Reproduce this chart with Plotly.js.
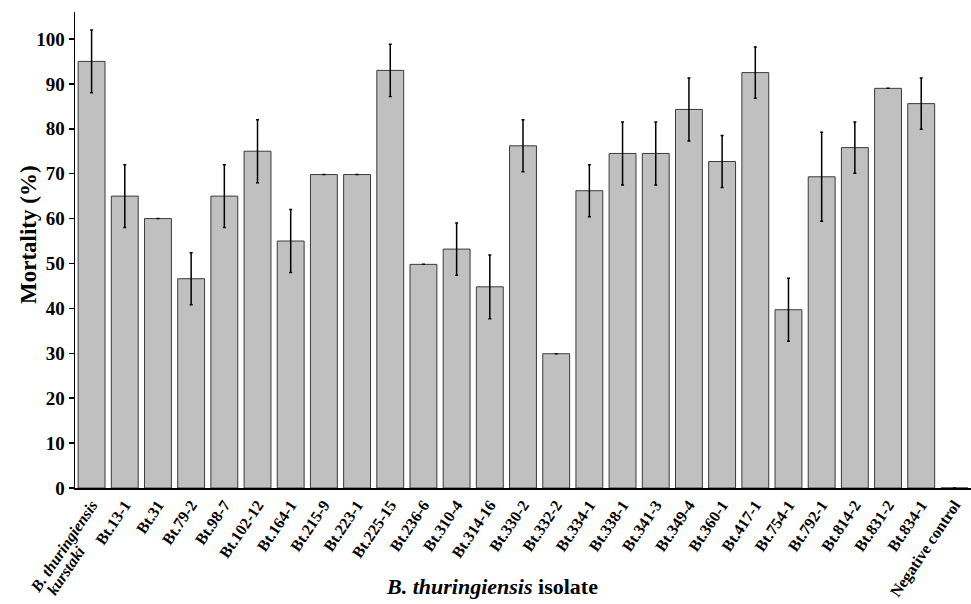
<!DOCTYPE html>
<html>
<head>
<meta charset="utf-8">
<script src="https://cdn.plot.ly/plotly-3.0.1.min.js"></script>
<style>html,body{margin:0;padding:0;background:#fff;}#chart{width:971px;height:604px;}</style>
</head>
<body>
<div id="chart"></div>
<script>
const categories = ["B. thuringiensis kurstaki", "Bt.13-1", "Bt.31", "Bt.79-2", "Bt.98-7", "Bt.102-12", "Bt.164-1", "Bt.215-9", "Bt.223-1", "Bt.225-15", "Bt.236-6", "Bt.310-4", "Bt.314-16", "Bt.330-2", "Bt.332-2", "Bt.334-1", "Bt.338-1", "Bt.341-3", "Bt.349-4", "Bt.360-1", "Bt.417-1", "Bt.754-1", "Bt.792-1", "Bt.814-2", "Bt.831-2", "Bt.834-1", "Negative control"];
const mortality = [95.0, 65.0, 60.0, 46.6, 65.0, 75.0, 55.0, 69.8, 69.8, 93.0, 49.8, 53.2, 44.8, 76.2, 29.9, 66.2, 74.5, 74.5, 84.3, 72.7, 92.5, 39.7, 69.3, 75.8, 89.0, 85.6, 0];
const errorSD = [7.0, 7.0, 0, 5.8, 7.0, 7.0, 7.0, 0, 0, 5.8, 0, 5.8, 7.1, 5.8, 0, 5.8, 7.0, 7.0, 7.0, 5.8, 5.7, 7.0, 9.9, 5.7, 0, 5.7, 0];
const tickLabels = ["<i>B. thuringiensis</i>", "Bt.13-1", "Bt.31", "Bt.79-2", "Bt.98-7", "Bt.102-12", "Bt.164-1", "Bt.215-9", "Bt.223-1", "Bt.225-15", "Bt.236-6", "Bt.310-4", "Bt.314-16", "Bt.330-2", "Bt.332-2", "Bt.334-1", "Bt.338-1", "Bt.341-3", "Bt.349-4", "Bt.360-1", "Bt.417-1", "Bt.754-1", "Bt.792-1", "Bt.814-2", "Bt.831-2", "Bt.834-1", "Negative control"];
const firstLabelLine2 = "<i>kurstaki</i>";
const yTicks = [0, 10, 20, 30, 40, 50, 60, 70, 80, 90, 100];

const serif = '"Liberation Serif", "Times New Roman", serif';

const trace = {
  type: 'bar',
  x: categories,
  y: mortality,
  marker: {color: '#c0c0c0', line: {color: '#3a3a3a', width: 1}},
  error_y: {type: 'data', array: errorSD, visible: true, color: '#000', thickness: 1.5, width: 1.5},
  hoverinfo: 'x+y'
};

const layout = {
  width: 971, height: 604,
  margin: {l: 75, r: 0, t: 12, b: 116},
  paper_bgcolor: '#fff', plot_bgcolor: '#fff',
  showlegend: false,
  bargap: 0.19,
  font: {family: serif, color: '#000'},
  xaxis: {
    type: 'category',
    range: [-0.5, 26.5],
    tickvals: categories, ticktext: tickLabels,
    showline: true, linecolor: '#000', linewidth: 1.5,
    ticks: '', showgrid: false, zeroline: false,
    tickangle: -56,
    tickfont: {size: 16, family: serif, weight: 'bold', color: '#000'}
  },
  yaxis: {
    range: [0, 106],
    tickvals: yTicks,
    showline: true, linecolor: '#000', linewidth: 1.5,
    ticks: 'outside', ticklen: 5, tickwidth: 1.5, tickcolor: '#000',
    showgrid: false, zeroline: false,
    tickfont: {size: 19, family: serif, weight: 'bold', color: '#000'}
  },
  annotations: [
    {text: '<b>' + firstLabelLine2 + '</b>', xref: 'x', yref: 'paper', x: categories[0], xshift: -26,
     y: -(570 - 488) / 476, xanchor: 'center', yanchor: 'middle', textangle: -56,
     showarrow: false, font: {size: 16, family: serif, color: '#000'}},
    {text: '<b><i>B. thuringiensis</i> isolate</b>', xref: 'paper', yref: 'paper',
     x: (492 - 75) / 896, y: -(586 - 488) / 476, xanchor: 'center', yanchor: 'middle',
     showarrow: false, font: {size: 22, family: serif, color: '#000'}},
    {text: '<b>Mortality (%)</b>', xref: 'paper', yref: 'paper', textangle: -90,
     x: -(75 - 28) / 896, y: (488 - 235) / 476, xanchor: 'center', yanchor: 'middle',
     showarrow: false, font: {size: 23, family: serif, color: '#000'}}
  ]
};

Plotly.newPlot('chart', [trace], layout, {displayModeBar: false, staticPlot: true});
</script>
</body>
</html>
